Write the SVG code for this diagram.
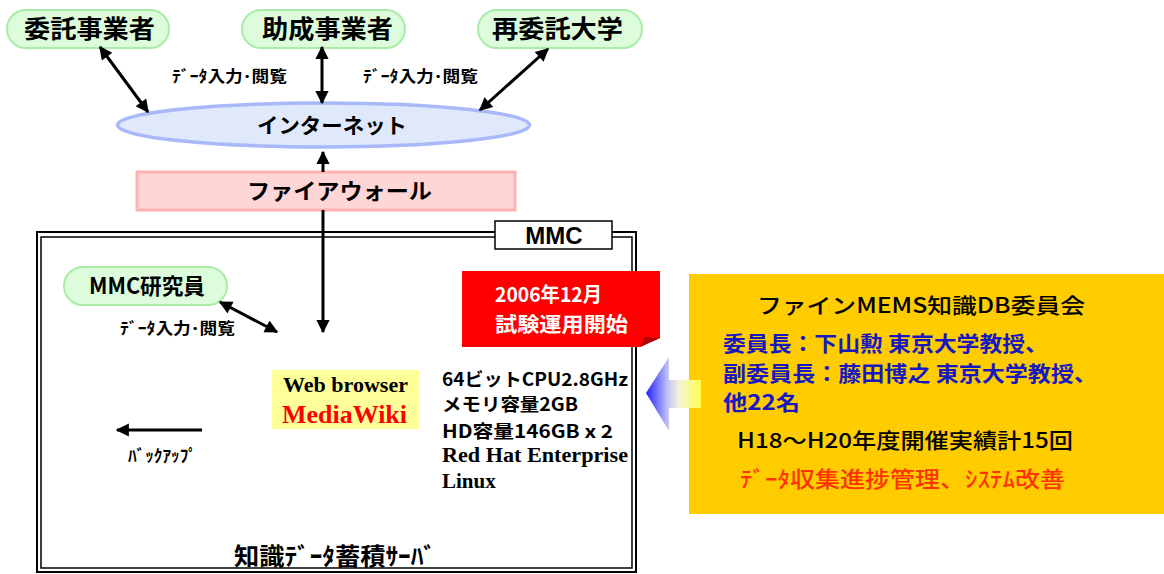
<svg xmlns="http://www.w3.org/2000/svg" width="1164" height="574" viewBox="0 0 1164 574">
<style>
.jp{font-family:"Noto Sans CJK JP","Noto Sans",sans-serif;font-weight:700}
.pill{fill:#dcfcdc;stroke:#a8eca8;stroke-width:2}
.con{stroke:#000;stroke-width:3;fill:none}
.serif{font-family:"Liberation Serif",serif;font-weight:700}
</style>
<defs>
<marker id="ah" viewBox="0 0 10 10" refX="9" refY="5" markerWidth="5" markerHeight="4.4" orient="auto-start-reverse">
<path d="M0,0 L10,5 L0,10 z" fill="#000"/>
</marker>
<linearGradient id="garrow" x1="646" y1="0" x2="701" y2="0" gradientUnits="userSpaceOnUse">
<stop offset="0" stop-color="#2020ff"/>
<stop offset="0.4" stop-color="#c4c4f4"/>
<stop offset="0.6" stop-color="#f4f4d8"/>
<stop offset="1" stop-color="#ffff50"/>
</linearGradient>
</defs>
<rect width="1164" height="574" fill="#fff"/>

<g id="mmc-frame">
<rect x="37" y="232" width="599" height="340" fill="none" stroke="#000" stroke-width="2"/>
<rect x="41" y="237" width="591" height="331" fill="none" stroke="#000" stroke-width="1.5"/>
</g>

<g id="node-itaku">
<rect class="pill" x="7" y="10" width="162" height="38" rx="19"/>
<text class="jp" x="24" y="38" font-size="25" textLength="131" lengthAdjust="spacingAndGlyphs">委託事業者</text>
</g>
<g id="node-josei">
<rect class="pill" x="242" y="10" width="163" height="38" rx="19"/>
<text class="jp" x="262" y="38" font-size="25" textLength="131" lengthAdjust="spacingAndGlyphs">助成事業者</text>
</g>
<g id="node-saiitaku">
<rect class="pill" x="478" y="10" width="164" height="38" rx="19"/>
<text class="jp" x="492" y="38" font-size="25" textLength="131" lengthAdjust="spacingAndGlyphs">再委託大学</text>
</g>

<g id="node-internet">
<ellipse cx="323.5" cy="125" rx="206" ry="22" fill="#e0e8fc" stroke="#a8b8f8" stroke-width="3.5"/>
<text class="jp" x="257" y="133" font-size="21" textLength="150" lengthAdjust="spacingAndGlyphs">インターネット</text>
</g>

<g id="node-firewall">
<rect x="137" y="172" width="378" height="38" fill="#ffd6d6" stroke="#ffb0b0" stroke-width="3"/>
<text class="jp" x="247" y="199" font-size="22" textLength="185" lengthAdjust="spacingAndGlyphs">ファイアウォール</text>
</g>

<g id="node-mmc-label">
<rect x="495" y="221" width="117" height="28" fill="#fff" stroke="#000" stroke-width="1.5"/>
<text x="554" y="244" font-family="Liberation Sans,Arial,sans-serif" font-weight="700" font-size="24" text-anchor="middle">MMC</text>
</g>

<g id="node-mmc-researcher">
<rect class="pill" x="64" y="267" width="163" height="38" rx="19"/>
<text class="jp" x="89" y="294" font-size="22" textLength="116" lengthAdjust="spacingAndGlyphs">MMC研究員</text>
</g>

<g id="node-webbrowser">
<rect x="272" y="370" width="147" height="59" fill="#ffff99"/>
<text class="serif" x="283" y="392" font-size="22" textLength="125" lengthAdjust="spacingAndGlyphs">Web browser</text>
<text class="serif" x="282" y="423" font-size="26" fill="#ff0000" textLength="125" lengthAdjust="spacingAndGlyphs">MediaWiki</text>
</g>

<g id="node-spec">
<text class="jp" x="442" y="386" font-size="18" textLength="186" lengthAdjust="spacingAndGlyphs">64ビットCPU2.8GHz</text>
<text class="jp" x="442" y="411" font-size="18" textLength="136" lengthAdjust="spacingAndGlyphs">メモリ容量2GB</text>
<text class="jp" x="442" y="438" font-size="18" textLength="171" lengthAdjust="spacingAndGlyphs">HD容量146GB x 2</text>
<text class="serif" x="442" y="462" font-size="21" textLength="186" lengthAdjust="spacingAndGlyphs">Red Hat Enterprise</text>
<text class="serif" x="442" y="488" font-size="21">Linux</text>
</g>

<g id="node-server-label">
<text class="jp" x="234" y="565" font-size="24" textLength="202" lengthAdjust="spacingAndGlyphs">知識ﾃﾞｰﾀ蓄積ｻｰﾊﾞ</text>
</g>

<g id="node-trial">
<path d="M462,271 H660 V338 L640,347 H462 Z" fill="#ff0000"/>
<path d="M640,347 L660,338 L645,337 Z" fill="#b00000"/>
<text class="jp" x="495" y="302" font-size="20" fill="#fff" textLength="107" lengthAdjust="spacingAndGlyphs">2006年12月</text>
<text class="jp" x="495" y="332" font-size="20" fill="#fff" textLength="133" lengthAdjust="spacingAndGlyphs">試験運用開始</text>
</g>

<g id="node-committee">
<rect x="689" y="274" width="475" height="240" fill="#ffcc00"/>
<text class="jp" x="757" y="313" font-size="21" textLength="328" lengthAdjust="spacingAndGlyphs" style="font-weight:500">ファインMEMS知識DB委員会</text>
<text class="jp" x="723" y="351" font-size="21" fill="#1818c0" textLength="325" lengthAdjust="spacingAndGlyphs">委員長：下山勲 東京大学教授、</text>
<text class="jp" x="723" y="381" font-size="21" fill="#1818c0" textLength="374" lengthAdjust="spacingAndGlyphs">副委員長：藤田博之 東京大学教授、</text>
<text class="jp" x="723" y="410" font-size="21" fill="#1818c0" textLength="77" lengthAdjust="spacingAndGlyphs">他22名</text>
<text class="jp" x="737" y="448" font-size="21" textLength="336" lengthAdjust="spacingAndGlyphs" style="font-weight:500">H18～H20年度開催実績計15回</text>
<text class="jp" x="740" y="487" font-size="22" fill="#ff3300" textLength="325" lengthAdjust="spacingAndGlyphs" style="font-weight:500">ﾃﾞｰﾀ収集進捗管理、ｼｽﾃﾑ改善</text>
</g>

<g id="node-feedback-arrow">
<polygon points="646,393 669,357 669,380 701,380 701,408 669,408 669,431" fill="url(#garrow)"/>
</g>

<g id="connectors">
<line class="con" x1="100" y1="47" x2="148" y2="112" marker-start="url(#ah)" marker-end="url(#ah)"/>
<line class="con" x1="322" y1="47" x2="322" y2="103" marker-start="url(#ah)" marker-end="url(#ah)"/>
<line class="con" x1="548" y1="49" x2="480" y2="110" marker-start="url(#ah)" marker-end="url(#ah)"/>
<line class="con" x1="323" y1="172" x2="323" y2="152" marker-end="url(#ah)"/>
<line class="con" x1="323" y1="210" x2="323" y2="332" marker-end="url(#ah)"/>
<line class="con" x1="220" y1="302" x2="277" y2="332" marker-start="url(#ah)" marker-end="url(#ah)"/>
<line class="con" x1="202" y1="430" x2="117" y2="430" marker-end="url(#ah)"/>
</g>

<g id="connector-labels">
<text class="jp" x="172" y="82" font-size="16" textLength="115" lengthAdjust="spacingAndGlyphs">ﾃﾞｰﾀ入力･閲覧</text>
<text class="jp" x="363" y="82" font-size="16" textLength="115" lengthAdjust="spacingAndGlyphs">ﾃﾞｰﾀ入力･閲覧</text>
<text class="jp" x="120" y="334" font-size="16" textLength="115" lengthAdjust="spacingAndGlyphs">ﾃﾞｰﾀ入力･閲覧</text>
<text class="jp" x="128" y="462" font-size="17" textLength="69" lengthAdjust="spacingAndGlyphs">ﾊﾞｯｸｱｯﾌﾟ</text>
</g>
</svg>
